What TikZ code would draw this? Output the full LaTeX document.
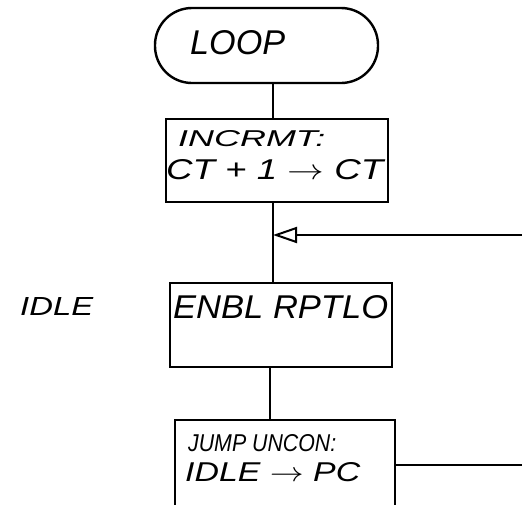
\documentclass[tikz,border=0pt]{standalone}
\usepackage{fontspec}
\setmainfont{Liberation Sans}
\usetikzlibrary{arrows.meta,calc}
\newcommand\hwtxt[3]{\resizebox{#1pt}{#2pt}{\itshape #3}}
\begin{document}
\begin{tikzpicture}[x=1pt,y=-1pt,
  box/.style={draw, line width=2pt, inner sep=0pt},
  hw/.style={inner sep=0pt, anchor=base west},
  conn/.style={line width=2.3pt}]
\useasboundingbox (0,0) rectangle (522,504);
\clip (0,0) rectangle (522,504);
% boxes
\node[box, line width=2.4pt, rounded corners=37pt, minimum width=223pt, minimum height=75pt] (loop) at (266.5,45.5) {};
\node[box, minimum width=222pt, minimum height=83pt] (incr) at (277,160.5) {};
\node[box, minimum width=222pt, minimum height=84pt] (enbl) at (281,325) {};
\node[box, minimum width=220pt, minimum height=90pt] (jump) at (285,465) {};
% texts
\node[hw] (tloop) at (190,54) {\hwtxt{95}{24}{LOOP}};
\node[hw] (tincA) at (178,146) {\hwtxt{147}{16}{INCRMT:}};
\node[hw] (tincB) at (166,179) {\hwtxt{217}{20}{CT + 1 $\rightarrow$ CT}};
\node[hw] (tidle) at (20,315) {\hwtxt{73}{18}{IDLE}};
\node[hw] (tenbl) at (173,318) {\hwtxt{215}{23}{ENBL RPTLO}};
\node[hw] (tjmpA) at (188,451) {\hwtxt{148}{17}{JUMP UNCON:}};
\node[hw] (tjmpB) at (185,481) {\hwtxt{175}{19}{IDLE $\rightarrow$ PC}};
% connectors
\coordinate (j) at (273,235);
\coordinate (rin) at (522,235);
\coordinate (rout) at (522,465);
\draw[conn] (loop.south -| j) -- (incr.north -| j);
\draw[conn] (incr.south -| j) -- (enbl.north -| j);
\draw[conn] ($(enbl.south)+(-11,0)$) -- ($(jump.north)+(-15,0)$);
\draw[conn, -{Triangle[open, length=24pt, width=16pt, line width=2pt]}] (rin) -- (j);
\draw[conn] (jump.east |- rout) -- (rout);
\end{tikzpicture}
\end{document}
